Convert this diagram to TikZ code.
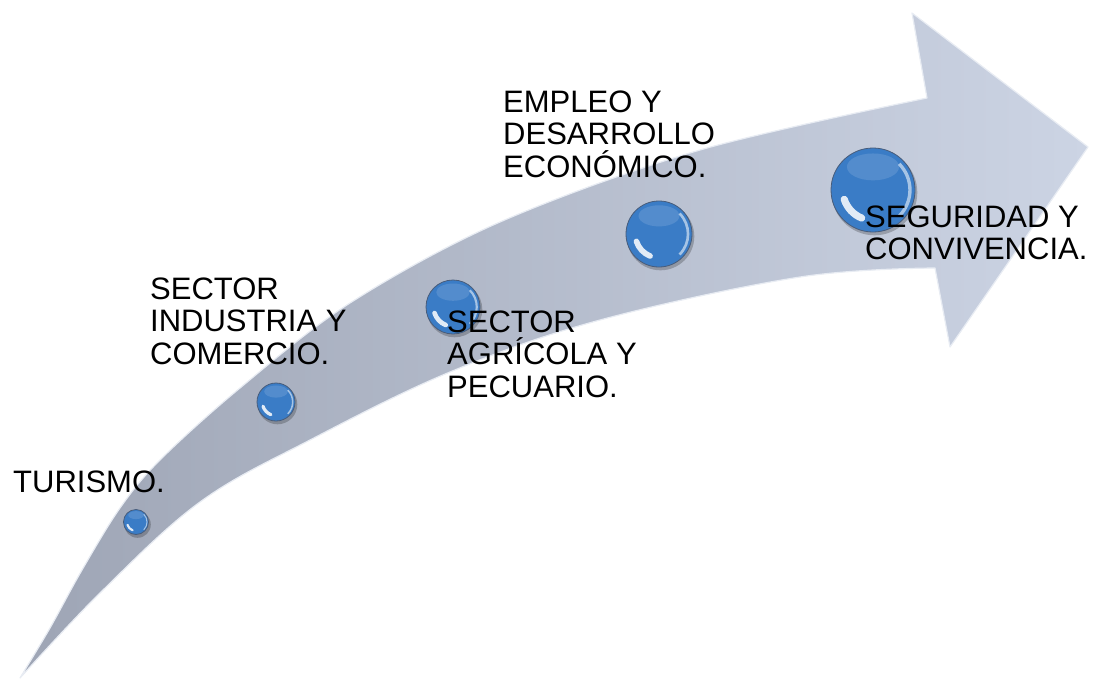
\documentclass[tikz,border=0pt]{standalone}
\usepackage{fontspec}
\setmainfont{Liberation Sans}
\usetikzlibrary{calc}
\definecolor{arrowL}{RGB}{158,165,181}
\definecolor{arrowR}{RGB}{204,212,228}
\definecolor{arrowEdge}{RGB}{232,236,243}
\definecolor{beadblue}{RGB}{58,124,198}
\definecolor{beadline}{RGB}{72,92,122}
\tikzset{
  bead/.style={circle, inner sep=0pt, fill=beadblue, draw=beadline, line width=0.8pt},
  labeltext/.style={anchor=base west, inner sep=0pt, font=\fontsize{31}{32.5}\selectfont, text=black},
  arrowbody/.style={left color=arrowL, right color=arrowR, draw=arrowEdge, line width=1.2pt, line join=round},
}
\newcommand\drawbead[4]{% name, x, y, radius
  \pgfmathsetmacro\rr{#4}
  \fill[black, opacity=.22] ($(#2,#3)+(1.5,2.5)$) circle ({\rr+0.8});
  \node[bead, minimum size={2*\rr}] (#1) at (#2,#3) {};
  \fill[white, opacity=.13] ($(#1.center)+(0,-0.55*\rr)$) ellipse ({0.62*\rr} and {0.32*\rr});
  \draw[white!55!beadblue, line width={0.08*\rr}] ($(#1.center)+(-45:0.88*\rr)$) arc (-45:45:0.88*\rr);
  \draw[white, opacity=.85, line width={0.17*\rr}, line cap=round] ($(#1.center)+(112:0.72*\rr)$) arc (112:162:0.72*\rr);
}
\begin{document}
\begin{tikzpicture}[x=1pt, y=-1pt]
\useasboundingbox (0,0) rectangle (1094,680);
% curved arrow
\shadedraw[arrowbody] (20,678)
  -- plot[smooth, tension=0.55] coordinates {(20,678) (50,628) (82,570) (120,508) (160,460) (240,388) (350,303) (500,222) (700,150) (927,98)}
  -- (912,13) -- (1088,147) -- (950,347) -- (935,268)
  -- plot[smooth, tension=0.6] coordinates {(935,268) (800,277) (600,320) (450,372) (310,440) (200,502) (100,593) (20,678)}
  -- cycle;
% beads
\drawbead{b1}{136}{522}{12.5}
\drawbead{b2}{276}{402}{19}
\drawbead{b3}{453}{307}{27}
\drawbead{b4}{659}{234}{33}
\drawbead{b5}{873}{190}{42}
% labels
\node[labeltext] (t1) at (13,492) {TURISMO.};
\node[labeltext] (t2) at (150,299) {\vtop{\hbox{SECTOR}\hbox{INDUSTRIA Y}\hbox{COMERCIO.}}};
\node[labeltext] (t3) at (447,332) {\vtop{\hbox{SECTOR}\hbox{AGRÍCOLA Y}\hbox{PECUARIO.}}};
\node[labeltext] (t4) at (503,112) {\vtop{\hbox{EMPLEO Y}\hbox{DESARROLLO}\hbox{ECONÓMICO.}}};
\node[labeltext] (t5) at (865,227) {\vtop{\hbox{SEGURIDAD Y}\hbox{CONVIVENCIA.}}};
\end{tikzpicture}
\end{document}
